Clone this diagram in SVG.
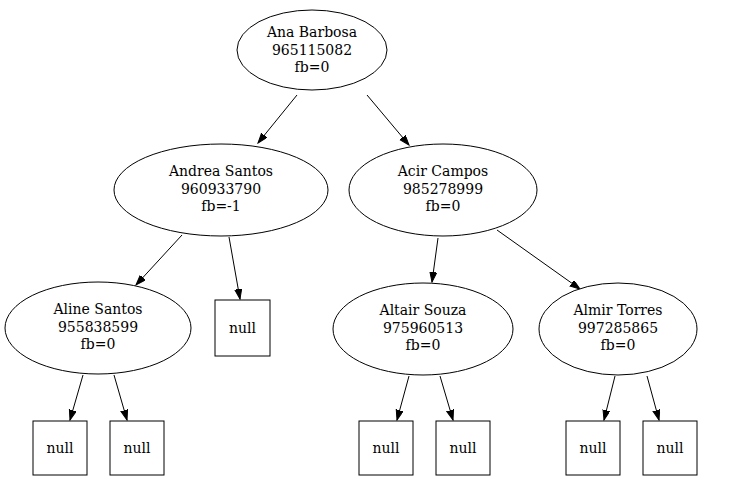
<svg xmlns="http://www.w3.org/2000/svg" width="731" height="481" viewBox="0 0 731 481">
<style>
.n{fill:#fff;stroke:#000;stroke-width:1}
.t{font-family:"DejaVu Serif","Liberation Serif",serif;font-size:14px;fill:#000;text-anchor:middle}
.e{stroke:#000;stroke-width:1;fill:none;marker-end:url(#ah)}
</style>
<defs>
<marker id="ah" markerUnits="userSpaceOnUse" markerWidth="11" markerHeight="8" refX="10" refY="3.5" orient="auto">
<path d="M0,0 L10,3.5 L0,7 z" fill="#000" stroke="#000"/>
</marker>
</defs>
<rect width="731" height="481" fill="#fff"/>
<g id="edges">
<line class="e" x1="297" y1="95" x2="258" y2="143"/>
<line class="e" x1="367" y1="95" x2="409" y2="145"/>
<line class="e" x1="182" y1="235" x2="136" y2="285"/>
<line class="e" x1="229" y1="237" x2="240" y2="299"/>
<line class="e" x1="438" y1="238" x2="432" y2="282"/>
<line class="e" x1="497" y1="230" x2="580" y2="289"/>
<line class="e" x1="83" y1="375" x2="70" y2="420"/>
<line class="e" x1="114" y1="375" x2="127" y2="420"/>
<line class="e" x1="409" y1="376" x2="397" y2="420"/>
<line class="e" x1="440" y1="376" x2="453" y2="420"/>
<line class="e" x1="615" y1="376" x2="604" y2="420"/>
<line class="e" x1="647" y1="376" x2="659" y2="420"/>
</g>
<g id="n_ana">
<ellipse class="n" cx="312" cy="50" rx="75" ry="40"/>
<text class="t" x="312" y="37">Ana Barbosa</text>
<text class="t" x="312" y="55">965115082</text>
<text class="t" x="312" y="72">fb=0</text>
</g>
<g id="n_andrea">
<ellipse class="n" cx="221" cy="190" rx="107" ry="46"/>
<text class="t" x="221" y="176">Andrea Santos</text>
<text class="t" x="221" y="194">960933790</text>
<text class="t" x="221" y="211">fb=-1</text>
</g>
<g id="n_acir">
<ellipse class="n" cx="443" cy="190" rx="94" ry="46"/>
<text class="t" x="443" y="176">Acir Campos</text>
<text class="t" x="443" y="194">985278999</text>
<text class="t" x="443" y="211">fb=0</text>
</g>
<g id="n_aline">
<ellipse class="n" cx="98" cy="328" rx="93" ry="46"/>
<text class="t" x="98" y="314">Aline Santos</text>
<text class="t" x="98" y="332">955838599</text>
<text class="t" x="98" y="349">fb=0</text>
</g>
<g id="n_null_andrea">
<rect class="n" x="215" y="300" width="55" height="56"/>
<text class="t" x="242.5" y="333">null</text>
</g>
<g id="n_altair">
<ellipse class="n" cx="423" cy="329" rx="90" ry="46"/>
<text class="t" x="423" y="315">Altair Souza</text>
<text class="t" x="423" y="333">975960513</text>
<text class="t" x="423" y="350">fb=0</text>
</g>
<g id="n_almir">
<ellipse class="n" cx="618" cy="329" rx="79" ry="46"/>
<text class="t" x="618" y="315">Almir Torres</text>
<text class="t" x="618" y="333">997285865</text>
<text class="t" x="618" y="350">fb=0</text>
</g>
<g id="n_null1"><rect class="n" x="33" y="421" width="54" height="54"/><text class="t" x="60" y="453">null</text></g>
<g id="n_null2"><rect class="n" x="110" y="421" width="54" height="54"/><text class="t" x="137" y="453">null</text></g>
<g id="n_null3"><rect class="n" x="359" y="421" width="54" height="54"/><text class="t" x="386" y="453">null</text></g>
<g id="n_null4"><rect class="n" x="436" y="421" width="54" height="54"/><text class="t" x="463" y="453">null</text></g>
<g id="n_null5"><rect class="n" x="566" y="421" width="54" height="54"/><text class="t" x="593" y="453">null</text></g>
<g id="n_null6"><rect class="n" x="643" y="421" width="54" height="54"/><text class="t" x="670" y="453">null</text></g>
</svg>
